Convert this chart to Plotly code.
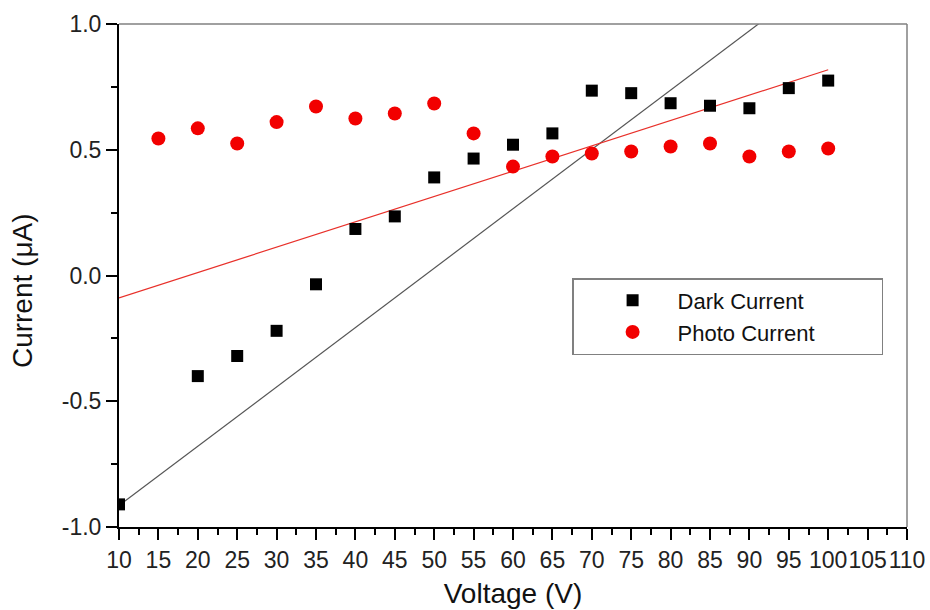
import plotly.graph_objects as go

# Measured current vs. applied voltage
voltage_dark = [10, 20, 25, 30, 35, 40, 45, 50, 55, 60, 65, 70, 75, 80, 85, 90, 95, 100]
dark_current = [-0.91, -0.40, -0.32, -0.22, -0.035, 0.185, 0.235, 0.39, 0.465, 0.52, 0.565,
                0.735, 0.725, 0.685, 0.675, 0.665, 0.745, 0.775]

voltage_photo = [15, 20, 25, 30, 35, 40, 45, 50, 55, 60, 65, 70, 75, 80, 85, 90, 95, 100]
photo_current = [0.545, 0.585, 0.525, 0.61, 0.672, 0.624, 0.644, 0.684, 0.565, 0.433, 0.473,
                 0.485, 0.493, 0.513, 0.525, 0.473, 0.493, 0.505]

# Linear fit lines (end points)
fit_dark_x = [10, 100]
fit_dark_y = [-0.915, 1.209]
fit_photo_x = [10, 100]
fit_photo_y = [-0.089, 0.818]

x_ticks = list(range(10, 111, 5))
y_ticks = [-1.0, -0.5, 0.0, 0.5, 1.0]

FONT = "Liberation Sans, Arial, sans-serif"
PAD = "\u00a0" * 10  # widens the legend box a little

fig = go.Figure()

fig.add_trace(go.Scatter(x=fit_dark_x, y=fit_dark_y, mode="lines",
                         line=dict(color="#555555", width=1.2), showlegend=False,
                         hoverinfo="skip"))
fig.add_trace(go.Scatter(x=fit_photo_x, y=fit_photo_y, mode="lines",
                         line=dict(color="#e8302a", width=1.2), showlegend=False,
                         hoverinfo="skip"))
fig.add_trace(go.Scatter(x=voltage_dark, y=dark_current, mode="markers",
                         name="Dark Current" + PAD,
                         marker=dict(symbol="square", size=12, color="black")))
fig.add_trace(go.Scatter(x=voltage_photo, y=photo_current, mode="markers",
                         name="Photo Current" + PAD,
                         marker=dict(symbol="circle", size=14, color="#f20000")))

axis_common = dict(
    showgrid=False, zeroline=False, automargin=False,
    showline=True, linecolor="black", linewidth=2,
    ticks="outside", ticklen=11, tickwidth=2, tickcolor="black",
    tickfont=dict(family=FONT, size=23, color="#222222"),
)

fig.update_xaxes(
    range=[10, 110], tickvals=x_ticks, ticktext=[str(v) for v in x_ticks],
    tickangle=0,
    minor=dict(dtick=2.5, tick0=10, ticks="outside", ticklen=6, tickwidth=2, tickcolor="black"),
    title=dict(text="Voltage (V)", font=dict(family=FONT, size=28, color="#111111"), standoff=12),
    **axis_common,
)
fig.update_yaxes(
    range=[-1.0, 1.0], tickvals=y_ticks, ticktext=[f"{v:.1f}" for v in y_ticks],
    minor=dict(dtick=0.25, tick0=-1.0, ticks="outside", ticklen=6, tickwidth=2, tickcolor="black"),
    **axis_common,
)

# y-axis title
fig.add_annotation(text="Current (\u03bcA)", xref="paper", yref="paper",
                   x=0, y=0.469, xshift=-97, textangle=-90, showarrow=False,
                   xanchor="center", yanchor="middle",
                   font=dict(family=FONT, size=28, color="#111111"))

# thin grey frame on the top and right sides
fig.add_shape(type="line", xref="paper", yref="paper", x0=0, x1=1, y0=1, y1=1,
              line=dict(color="#808080", width=1.5))
fig.add_shape(type="line", xref="paper", yref="paper", x0=1, x1=1, y0=0, y1=1,
              line=dict(color="#808080", width=1.5))

fig.update_layout(
    width=930, height=610,
    margin=dict(l=119, r=23, t=24, b=83),
    plot_bgcolor="white", paper_bgcolor="white",
    font=dict(family=FONT, color="#111111"),
    legend=dict(
        x=0.575, y=0.495, xanchor="left", yanchor="top",
        bgcolor="white", bordercolor="#808080", borderwidth=1.5,
        font=dict(family=FONT, size=22, color="#111111"),
        itemwidth=80, indentation=14, tracegroupgap=0,
    ),
)

fig.write_html("out.html")
